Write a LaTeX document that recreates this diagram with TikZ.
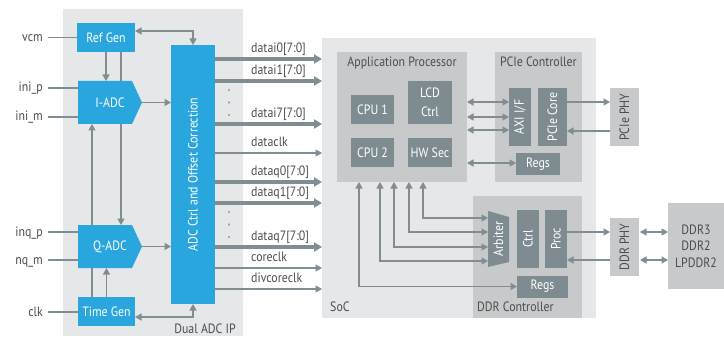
\documentclass[tikz,border=0pt]{standalone}
\usepackage{fontspec}
\usepackage{graphicx}
\setmainfont{PT Sans}[FakeStretch=0.88]
\usetikzlibrary{arrows.meta}
\pgfdeclarelayer{back}
\pgfdeclarelayer{bg}
\pgfsetlayers{back,bg,main}
\definecolor{bgl}{HTML}{E6E7E8}
\definecolor{midg}{HTML}{C8C9CA}
\definecolor{dk}{HTML}{7E8B91}
\definecolor{lnc}{HTML}{808D93}
\definecolor{adcb}{HTML}{29A6DE}
\definecolor{txt}{HTML}{4D4D4D}
\tikzset{
  blk/.style={inner sep=0pt, outer sep=0pt, text=white, align=center},
  bluebox/.style={blk, fill=adcb},
  darkbox/.style={blk, fill=dk},
  phybox/.style={inner sep=0pt, outer sep=0pt, fill=midg, text=txt, align=center},
  area/.style={inner sep=0pt, outer sep=0pt, fill=bgl},
  subarea/.style={inner sep=0pt, outer sep=0pt, fill=midg},
  lbl/.style={text=txt, inner sep=0pt, text height=9.5pt, text depth=1.5pt},
  ttl/.style={text=txt, inner sep=0pt},
  ln/.style={draw=lnc, line width=1.3pt},
  arr/.style={ln, -{Triangle[length=6.5pt,width=7pt]}},
  darr/.style={ln, {Triangle[length=6.5pt,width=7pt]}-{Triangle[length=6.5pt,width=7pt]}},
  bus/.style={draw=lnc, line width=4pt, -{Triangle[length=8pt,width=9pt]}},
}
\begin{document}
\begin{tikzpicture}[x=1pt,y=-1pt,font=\fontsize{13.5pt}{15pt}\selectfont]
\useasboundingbox (0,0) rectangle (724,337);
\begin{pgfonlayer}{back}
\node[area, minimum width=180pt, minimum height=327pt] (dual) at (153,172.5) {};
\node[area, minimum width=274pt, minimum height=280pt] (soc) at (459,178) {};
\end{pgfonlayer}
\node[ttl, anchor=base east] (dualt) at (236,333) {Dual ADC IP};
\node[ttl, anchor=base west] (soct) at (330,311) {SoC};

% ADC side
\node[bluebox, minimum width=58pt, minimum height=29pt] (refgen) at (106,37.5) {Ref Gen};
\node[bluebox, minimum width=57pt, minimum height=29pt] (timegen) at (106.5,311.5) {Time Gen};
\fill[adcb] (78,81) -- (132,81) -- (142,102.5) -- (132,124) -- (78,124) -- cycle;
\node[blk, minimum width=64pt, minimum height=43pt] (iadc) at (110,102.5) {I-ADC};
\fill[adcb] (78,225) -- (132,225) -- (142,246.5) -- (132,268) -- (78,268) -- cycle;
\node[blk, minimum width=64pt, minimum height=43pt] (qadc) at (110,246.5) {Q-ADC};
\node[bluebox, minimum width=44pt, minimum height=259pt] (adc) at (193,174.5) {\rotatebox{90}{ADC Ctrl and Offset Correction}};

\node[lbl, anchor=east] (vcm) at (43,37.5) {vcm};
\node[lbl, anchor=east] (inip) at (43,88) {ini\_p};
\node[lbl, anchor=east] (inim) at (43,117) {ini\_m};
\node[lbl, anchor=east] (inqp) at (43,232) {inq\_p};
\node[lbl, anchor=east] (inqm) at (43,260) {nq\_m};
\node[lbl, anchor=east] (clk) at (43,312) {clk};
\draw[ln] ([xshift=5pt]vcm.east) -- (vcm.east -| refgen.west);
\draw[ln] ([xshift=5pt]inip.east) -- (inip.east -| iadc.west);
\draw[ln] ([xshift=5pt]inim.east) -- (inim.east -| iadc.west);
\draw[ln] ([xshift=5pt]inqp.east) -- (inqp.east -| qadc.west);
\draw[ln] ([xshift=5pt]inqm.east) -- (inqm.east -| qadc.west);
\draw[ln] ([xshift=5pt]clk.east) -- (clk.east -| timegen.west);

\draw[arr] (refgen.south) -- (refgen.south |- iadc.north);
\begin{pgfonlayer}{bg}
\draw[arr] ([xshift=15pt]refgen.south) -- ([xshift=15pt]refgen.south |- qadc.north);
\draw[arr] ([xshift=-14.5pt]timegen.north) -- ([xshift=-14.5pt]timegen.north |- iadc.south);
\end{pgfonlayer}
\draw[arr] (timegen.north) -- (timegen.north |- qadc.south);
\draw[arr] (iadc.east) -- (iadc.east -| adc.west);
\draw[arr] (qadc.east) -- (qadc.east -| adc.west);
\draw[darr] ([yshift=6.5pt]refgen.east) -| (adc.north);
\draw[darr] ([yshift=-5.5pt]timegen.east) -| (adc.south);

% buses
\foreach \y/\t/\s/\n in {59/datai0[7:0]/bus/a, 81/datai1[7:0]/bus/b, 124/datai7[7:0]/bus/c, 153/dataclk/arr/d, 182/dataq0[7:0]/bus/e, 203/dataq1[7:0]/bus/f, 247/dataq7[7:0]/bus/g, 268/coreclk/arr/h, 289/divcoreclk/arr/i}{
  \draw[\s] (adc.east |- 0,\y) -- (soc.west |- 0,\y);
  \node[ttl, anchor=base west] (bl\n) at (251,\y-6.5) {\t};
}
\foreach \y in {90,102.5,115,212,224.5,237}{
  \fill[lnc] (229,\y) ellipse (0.8pt and 1.4pt);
}

% Application processor
\node[subarea, minimum width=130pt, minimum height=130pt] (ap) at (402,117) {};
\node[ttl, anchor=base] (apt) at (402,67) {Application Processor};
\node[darkbox, minimum width=43pt, minimum height=29pt] (cpu1) at (372.5,109.5) {CPU 1};
\node[darkbox, minimum width=44pt, minimum height=43pt, font=\fontsize{13.5pt}{18.5pt}\selectfont] (lcd) at (430,102.5) {LCD\\Ctrl};
\node[darkbox, minimum width=43pt, minimum height=29pt] (cpu2) at (372.5,152.5) {CPU 2};
\node[darkbox, minimum width=44pt, minimum height=29pt] (hwsec) at (430,152.5) {HW Sec};

% PCIe controller
\node[subarea, minimum width=87pt, minimum height=130pt] (pcie) at (538.5,117) {};
\node[ttl, anchor=base] (pciet) at (538.5,67) {PCIe Controller};
\node[darkbox, minimum width=22pt, minimum height=58pt] (axi) at (520,117) {\rotatebox{90}{AXI I/F}};
\node[darkbox, minimum width=29pt, minimum height=58pt] (pcore) at (552.5,117) {\rotatebox{90}{PCIe Core}};
\node[darkbox, minimum width=44pt, minimum height=22pt] (pregs) at (538,164) {Regs};
\node[phybox, minimum width=29pt, minimum height=58pt] (pphy) at (624.5,117) {\rotatebox{90}{PCIe PHY}};

% DDR controller
\node[subarea, minimum width=109pt, minimum height=122pt] (ddr) at (527.5,257) {};
\node[ttl, anchor=base west] (ddrt) at (477,311) {DDR Controller};
\fill[dk] (488,211) -- (509,217) -- (509,262) -- (488,267) -- cycle;
\node[blk, minimum width=21pt, minimum height=56pt] (arb) at (498.5,239) {\rotatebox{90}{Arbiter}};
\node[darkbox, minimum width=22pt, minimum height=58pt] (ctrl) at (528,239) {\rotatebox{90}{Ctrl}};
\node[darkbox, minimum width=22pt, minimum height=58pt] (proc) at (556,239) {\rotatebox{90}{Proc}};
\node[darkbox, minimum width=51pt, minimum height=22pt] (dregs) at (542.5,286.5) {Regs};
\node[phybox, minimum width=29pt, minimum height=58pt] (dphy) at (624.5,247) {\rotatebox{90}{DDR PHY}};
\node[phybox, minimum width=56pt, minimum height=86pt, font=\fontsize{13.5pt}{16.5pt}\selectfont] (mem) at (696,246) {DDR3\\DDR2\\LPDDR2};

% SoC connectors
\foreach \y in {102,117,130}{
  \draw[darr] (ap.east |- 0,\y) -- (axi.west |- 0,\y);
}
\draw[darr] (ap.east |- 0,163) -- (pregs.west |- 0,163);
\draw[arr] (pcore.east |- 0,102) -- (pphy.west |- 0,102);
\draw[arr] (pphy.west |- 0,131) -- (pcore.east |- 0,131);
\foreach \x/\y in {423/218, 409/232, 394/247, 380/261}{
  \draw[darr] (ap.south -| \x,0) |- (arb.west |- 0,\y);
}
\draw[darr] (ap.south -| 359,0) |- (dregs.west);
\draw[arr] (proc.east |- 0,232) -- (dphy.west |- 0,232);
\draw[arr] (dphy.west |- 0,260) -- (proc.east |- 0,260);
\draw[darr] ([xshift=1pt]dphy.east |- 0,232) -- (mem.west |- 0,232);
\draw[darr] ([xshift=1pt]dphy.east |- 0,260) -- (mem.west |- 0,260);
\end{tikzpicture}
\end{document}
